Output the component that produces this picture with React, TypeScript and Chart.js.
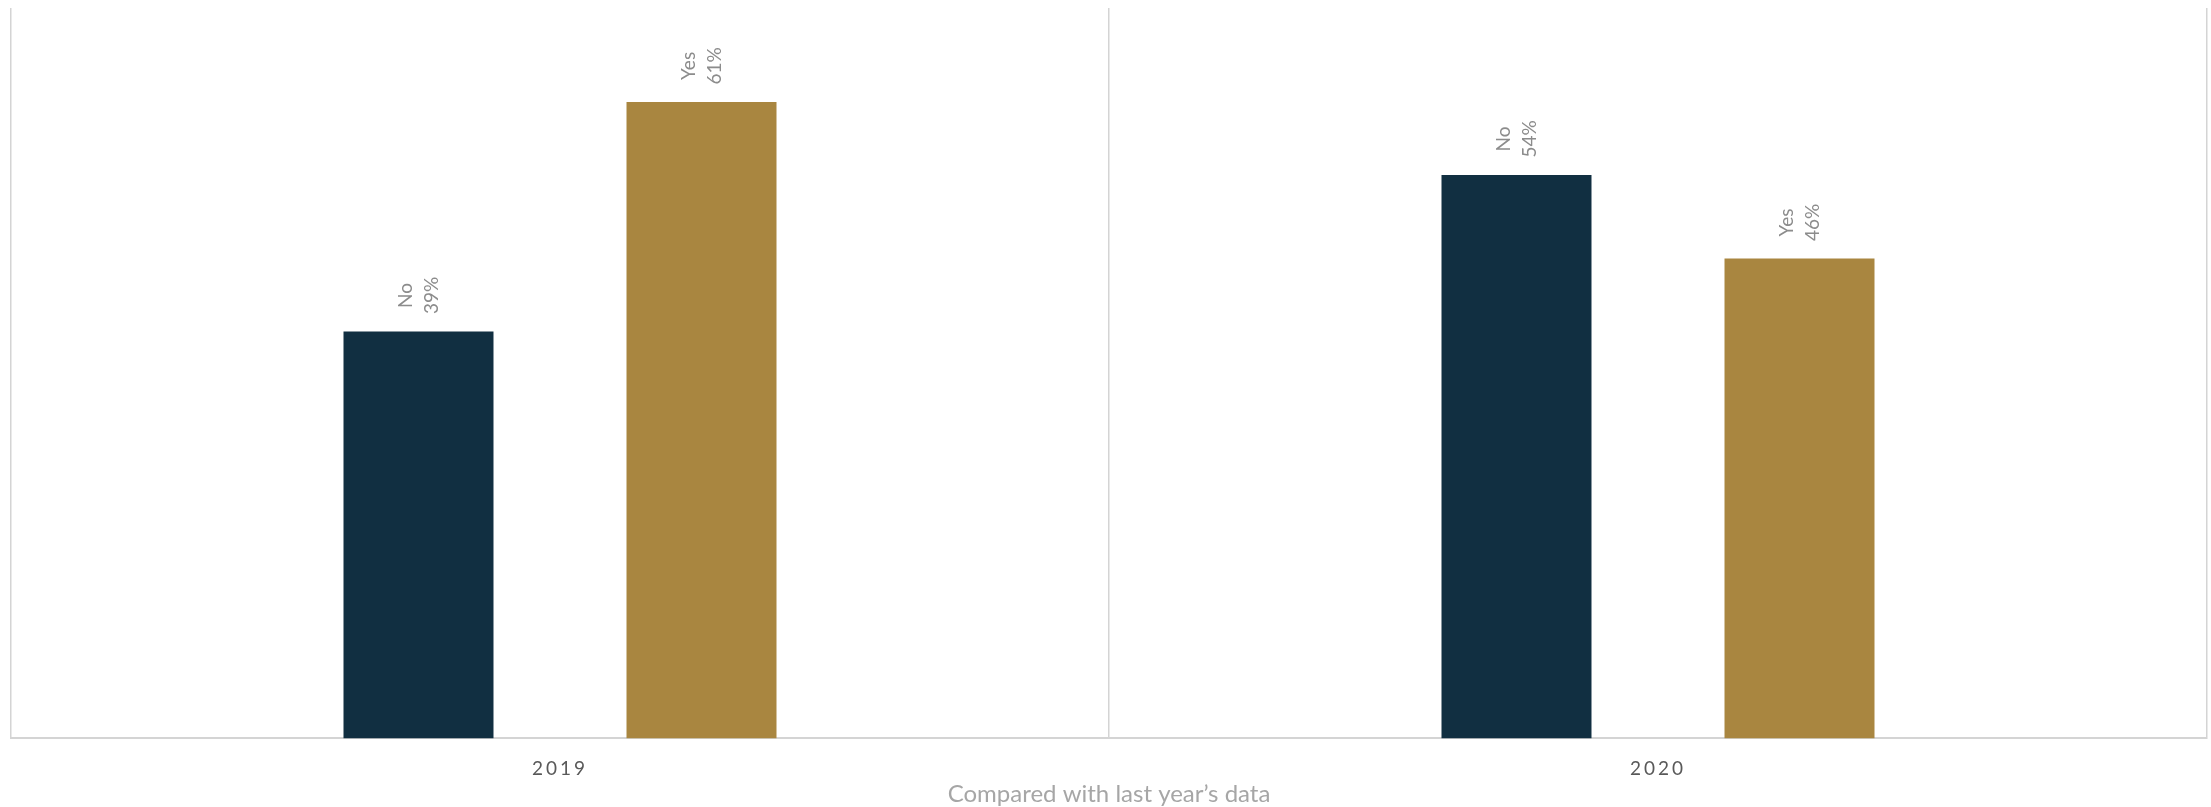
import React, { useEffect, useRef } from 'react';
import { Chart, registerables } from 'chart.js';

Chart.register(...registerables);

const categories = ['2019', '2020'];
const seriesNames = ['No', 'Yes'];
const noValues = [39, 54];
const yesValues = [61, 46];
const seriesColors = ['#112F41', '#A98640'];
const axisTitle = 'Compared with last year’s data';

const FONT = 'Lato, "Open Sans", sans-serif';

const labelPlugin = {
  id: 'barLabels',
  afterDatasetsDraw(chart: any) {
    const ctx = chart.ctx;
    chart.data.datasets.forEach((ds: any, di: number) => {
      const meta = chart.getDatasetMeta(di);
      meta.data.forEach((bar: any, i: number) => {
        const v = ds.data[i];
        const lines = [ds.label, v + '%'];
        ctx.save();
        ctx.translate(bar.x, bar.y - 36);
        ctx.rotate(-Math.PI / 2);
        ctx.font = `19px ${FONT}`;
        ctx.fillStyle = '#8c8c8c';
        ctx.textAlign = 'center';
        ctx.textBaseline = 'middle';
        ctx.fillText(lines[0], 0, -13);
        ctx.fillText(lines[1], 0, 13);
        ctx.restore();
      });
    });
    // letter spacing for the x tick labels (drawn after datasets, z = 1)
    (ctx as any).letterSpacing = '3px';
  },
  afterDraw(chart: any) {
    (chart.ctx as any).letterSpacing = '0px';
  },
};

export default function App() {
  const canvasRef = useRef<HTMLCanvasElement | null>(null);

  useEffect(() => {
    if (!canvasRef.current) return;
    const chart = new Chart(canvasRef.current, {
      type: 'bar',
      data: {
        labels: categories,
        datasets: [
          {
            label: seriesNames[0],
            data: noValues,
            backgroundColor: seriesColors[0],
            categoryPercentage: 0.5155,
            barPercentage: 0.53,
          },
          {
            label: seriesNames[1],
            data: yesValues,
            backgroundColor: seriesColors[1],
            categoryPercentage: 0.5155,
            barPercentage: 0.53,
          },
        ],
      },
      options: {
        responsive: false,
        animation: false,
        layout: { padding: { left: 11, right: 4, top: 8, bottom: 1 } },
        plugins: {
          legend: { display: false },
          tooltip: { enabled: false },
          title: { display: false },
        },
        scales: {
          x: {
            grid: {
              display: true,
              offset: true,
              color: '#d4d4d4',
              lineWidth: 1.5,
              drawTicks: false,
            },
            border: { display: true, color: '#d4d4d4', width: 2 },
            ticks: {
              z: 1,
              color: '#595959',
              padding: 19,
              font: { family: FONT, size: 19 },
            },
            title: {
              display: true,
              text: axisTitle,
              color: '#a6a6a6',
              font: { family: FONT, size: 24 },
              padding: { top: -19, bottom: -3 },
            },
          },
          y: {
            display: false,
            min: 0,
            max: 70,
          },
        },
      },
      plugins: [labelPlugin],
    });
    return () => chart.destroy();
  }, []);

  return (
    <div style={{ position: 'absolute', left: 0, top: 0, width: 2211, height: 807, background: '#ffffff' }}>
      <canvas ref={canvasRef} width={2211} height={807} style={{ display: 'block' }} />
    </div>
  );
}
